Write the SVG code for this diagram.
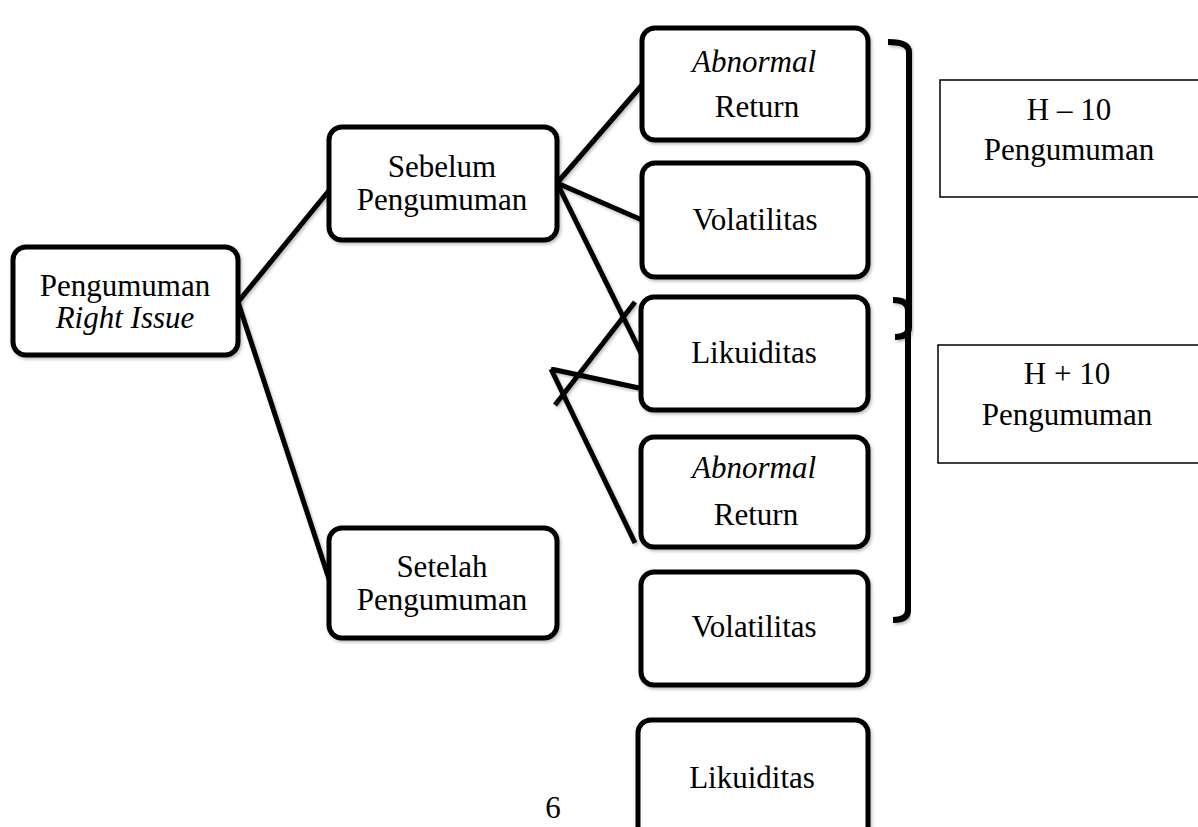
<svg xmlns="http://www.w3.org/2000/svg" width="1198" height="827" viewBox="0 0 1198 827">
<defs>
<filter id="sh" x="-10%" y="-10%" width="130%" height="130%">
<feDropShadow dx="1.5" dy="2" stdDeviation="1.5" flood-color="#000" flood-opacity="0.25"/>
</filter>
<style>
.box{fill:#fff;stroke:#000;stroke-width:5;filter:url(#sh)}
.sq{fill:#fff;stroke:#000;stroke-width:1.5}
.ln{stroke:#000;stroke-width:5;fill:none;filter:url(#sh)}
.br{stroke:#000;stroke-width:6;fill:none;stroke-linecap:butt;filter:url(#sh)}
text{font-family:"Liberation Serif","Times New Roman",serif;font-size:31px;fill:#000;text-anchor:middle}
.it{font-style:italic}
</style>
</defs>
<rect width="1198" height="827" fill="#fff"/>
<g id="connectors">
<line class="ln" x1="238" y1="302" x2="331" y2="188"/>
<line class="ln" x1="238" y1="302" x2="330" y2="582"/>
<line class="ln" x1="557" y1="183" x2="642" y2="85"/>
<line class="ln" x1="557" y1="183" x2="642" y2="220"/>
<line class="ln" x1="557" y1="183" x2="641" y2="353"/>
<line class="ln" x1="635" y1="302" x2="555" y2="405"/>
<line class="ln" x1="551" y1="369" x2="639" y2="388"/>
<line class="ln" x1="551" y1="369" x2="635" y2="543"/>
</g>
<g id="n-root"><rect class="box" x="13" y="247" width="225" height="108" rx="13"/><text x="125" y="296">Pengumuman</text><text class="it" x="125" y="328">Right Issue</text></g>
<g id="n-sebelum"><rect class="box" x="329" y="127" width="228" height="113" rx="13"/><text x="442" y="177">Sebelum</text><text x="442" y="210">Pengumuman</text></g>
<g id="n-setelah"><rect class="box" x="329" y="528" width="228" height="110" rx="13"/><text x="442" y="577">Setelah</text><text x="442" y="610">Pengumuman</text></g>
<g id="n-ar1"><rect class="box" x="642" y="28" width="226" height="112" rx="13"/><text class="it" x="754" y="72">Abnormal</text><text x="757" y="117">Return</text></g>
<g id="n-vol1"><rect class="box" x="642" y="163" width="226" height="114" rx="13"/><text x="755" y="230">Volatilitas</text></g>
<g id="n-liq1"><rect class="box" x="641" y="297" width="227" height="113" rx="13"/><text x="754" y="363">Likuiditas</text></g>
<g id="n-ar2"><rect class="box" x="641" y="437" width="227" height="110" rx="13"/><text class="it" x="754" y="478">Abnormal</text><text x="756" y="525">Return</text></g>
<g id="n-vol2"><rect class="box" x="641" y="572" width="227" height="113" rx="13"/><text x="754" y="637">Volatilitas</text></g>
<g id="n-liq2"><rect class="box" x="638" y="720" width="230" height="130" rx="13"/><text x="752" y="788">Likuiditas</text></g>
<g id="brackets">
<path class="br" d="M888,42 Q909,42 909,52 V327 Q909,337 895,337"/>
<path class="br" d="M909,177 H925"/>
<path class="br" d="M893,300 Q908,300 908,310 V610 Q908,620 893,620"/>
<path class="br" d="M908,462 H923"/>
</g>
<g id="n-hmin"><rect class="sq" x="940" y="80" width="262" height="117"/><text x="1069" y="120">H – 10</text><text x="1069" y="160">Pengumuman</text></g>
<g id="n-hplus"><rect class="sq" x="938" y="345" width="264" height="118"/><text x="1067" y="384">H + 10</text><text x="1067" y="425">Pengumuman</text></g>
<text x="553" y="818">6</text>
</svg>
